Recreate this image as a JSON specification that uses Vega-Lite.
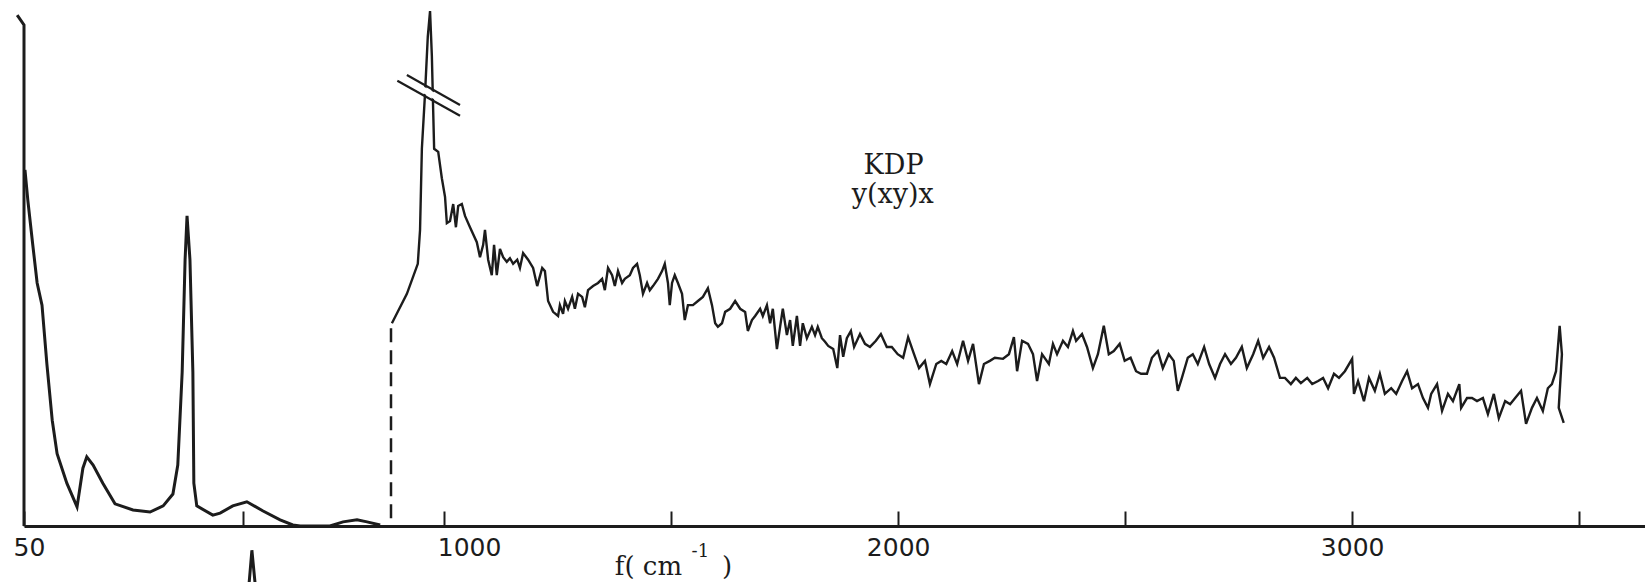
{
  "$schema": "https://vega.github.io/schema/vega-lite/v6.json",
  "width": 1621,
  "height": 516,
  "autosize": {"type": "none"},
  "padding": {"left": 24, "top": 10, "right": 0, "bottom": 56},
  "background": "white",
  "config": {"view": {"stroke": null}},
  "datasets": {
    "low": [
      {"i":1,"f":52,"I":69.0},{"i":2,"f":58,"I":63.0},{"i":3,"f":68,"I":54.5},{"i":4,"f":77,"I":47.1},
      {"i":5,"f":87,"I":42.8},{"i":6,"f":97,"I":31.4},{"i":7,"f":108,"I":20.5},{"i":8,"f":118,"I":14.0},
      {"i":9,"f":138,"I":8.3},{"i":10,"f":159,"I":3.7},{"i":11,"f":171,"I":11.2},{"i":12,"f":179,"I":13.4},
      {"i":13,"f":192,"I":11.8},{"i":14,"f":212,"I":8.3},{"i":15,"f":237,"I":4.3},{"i":16,"f":274,"I":3.1},
      {"i":17,"f":309,"I":2.7},{"i":18,"f":336,"I":3.9},{"i":19,"f":356,"I":6.2},{"i":20,"f":366,"I":11.8},
      {"i":21,"f":375,"I":29.8},{"i":22,"f":381,"I":51.6},{"i":23,"f":385,"I":60.1},{"i":24,"f":391,"I":51.6},
      {"i":25,"f":397,"I":29.8},{"i":26,"f":399,"I":8.3},{"i":27,"f":405,"I":3.9},{"i":28,"f":438,"I":2.1},
      {"i":29,"f":453,"I":2.5},{"i":30,"f":479,"I":3.9},{"i":31,"f":510,"I":4.7},{"i":32,"f":552,"I":2.9},
      {"i":33,"f":596,"I":1.2},{"i":34,"f":629,"I":0.2},{"i":35,"f":648,"I":0},{"i":36,"f":725,"I":0},
      {"i":37,"f":759,"I":0.8},{"i":38,"f":795,"I":1.2},{"i":39,"f":821,"I":0.8},{"i":40,"f":855,"I":0.2}
    ],
    "high": [
      {"i":1,"f":885,"I":39.3},{"i":2,"f":918,"I":45.0},{"i":3,"f":942,"I":50.8},{"i":4,"f":947,"I":57.4},
      {"i":5,"f":951,"I":73.1},{"i":6,"f":958,"I":83.9},{"i":7,"f":964,"I":94.8},{"i":8,"f":969,"I":99.8},
      {"i":9,"f":973,"I":91.1},{"i":10,"f":976,"I":80.2},{"i":11,"f":978,"I":73.1},{"i":12,"f":987,"I":72.5},
      {"i":13,"f":995,"I":67.4},{"i":14,"f":1002,"I":63.8},{"i":15,"f":1006,"I":58.7},{"i":16,"f":1013,"I":59.1},
      {"i":17,"f":1020,"I":62.4},{"i":18,"f":1026,"I":57.9},{"i":19,"f":1031,"I":62.0},{"i":20,"f":1039,"I":62.4},
      {"i":21,"f":1046,"I":60.1},{"i":22,"f":1057,"I":57.9},{"i":23,"f":1072,"I":55.0},{"i":24,"f":1079,"I":52.1},
      {"i":25,"f":1086,"I":54.5},{"i":26,"f":1090,"I":57.4},{"i":27,"f":1097,"I":51.6},{"i":28,"f":1105,"I":48.6},
      {"i":29,"f":1110,"I":54.5},{"i":30,"f":1116,"I":48.6},{"i":31,"f":1123,"I":53.7},{"i":32,"f":1130,"I":52.1},
      {"i":33,"f":1138,"I":51.2},{"i":34,"f":1145,"I":51.9},{"i":35,"f":1152,"I":50.8},{"i":36,"f":1161,"I":51.6},
      {"i":37,"f":1167,"I":50.0},{"i":38,"f":1174,"I":52.9},{"i":39,"f":1185,"I":51.6},{"i":40,"f":1196,"I":50.0},
      {"i":41,"f":1205,"I":46.5},{"i":42,"f":1216,"I":50.0},{"i":43,"f":1222,"I":49.4},{"i":44,"f":1229,"I":43.6},
      {"i":45,"f":1240,"I":41.5},{"i":46,"f":1251,"I":40.7},{"i":47,"f":1255,"I":42.8},{"i":48,"f":1262,"I":41.1},
      {"i":49,"f":1266,"I":43.6},{"i":50,"f":1273,"I":42.1},{"i":51,"f":1282,"I":44.4},{"i":52,"f":1288,"I":42.1},
      {"i":53,"f":1295,"I":45.0},{"i":54,"f":1304,"I":44.4},{"i":55,"f":1310,"I":42.4},{"i":56,"f":1317,"I":45.7},
      {"i":57,"f":1328,"I":46.5},{"i":58,"f":1339,"I":47.1},{"i":59,"f":1348,"I":47.9},{"i":60,"f":1354,"I":45.7},
      {"i":61,"f":1361,"I":50.0},{"i":62,"f":1370,"I":48.6},{"i":63,"f":1376,"I":46.5},{"i":64,"f":1383,"I":49.4},
      {"i":65,"f":1392,"I":47.1},{"i":66,"f":1398,"I":47.9},{"i":67,"f":1409,"I":48.6},{"i":68,"f":1416,"I":50.0},
      {"i":69,"f":1425,"I":50.8},{"i":70,"f":1431,"I":48.6},{"i":71,"f":1438,"I":45.0},{"i":72,"f":1447,"I":47.1},
      {"i":73,"f":1453,"I":45.7},{"i":74,"f":1460,"I":46.5},{"i":75,"f":1471,"I":47.9},{"i":76,"f":1480,"I":49.4},
      {"i":77,"f":1486,"I":50.8},{"i":78,"f":1493,"I":47.1},{"i":79,"f":1497,"I":42.8},{"i":80,"f":1502,"I":47.1},
      {"i":81,"f":1508,"I":48.6},{"i":82,"f":1515,"I":47.1},{"i":83,"f":1524,"I":45.0},{"i":84,"f":1530,"I":39.9},
      {"i":85,"f":1537,"I":42.8},{"i":86,"f":1548,"I":42.8},{"i":87,"f":1559,"I":43.6},{"i":88,"f":1570,"I":44.4},
      {"i":89,"f":1581,"I":46.1},{"i":90,"f":1590,"I":42.8},{"i":91,"f":1597,"I":39.3},{"i":92,"f":1603,"I":38.6},
      {"i":93,"f":1612,"I":39.3},{"i":94,"f":1619,"I":41.5},{"i":95,"f":1630,"I":42.1},{"i":96,"f":1641,"I":43.6},
      {"i":97,"f":1652,"I":42.1},{"i":98,"f":1663,"I":41.5},{"i":99,"f":1669,"I":37.8},{"i":100,"f":1678,"I":39.9},
      {"i":101,"f":1685,"I":40.7},{"i":102,"f":1696,"I":42.1},{"i":103,"f":1702,"I":40.7},{"i":104,"f":1711,"I":42.8},
      {"i":105,"f":1718,"I":39.3},{"i":106,"f":1724,"I":42.1},{"i":107,"f":1733,"I":34.3},{"i":108,"f":1740,"I":38.6},
      {"i":109,"f":1746,"I":42.1},{"i":110,"f":1755,"I":37.0},{"i":111,"f":1762,"I":39.9},{"i":112,"f":1768,"I":34.9},
      {"i":113,"f":1777,"I":40.7},{"i":114,"f":1784,"I":34.9},{"i":115,"f":1790,"I":39.3},{"i":116,"f":1799,"I":36.4},
      {"i":117,"f":1810,"I":38.6},{"i":118,"f":1817,"I":37.0},{"i":119,"f":1823,"I":38.6},{"i":120,"f":1832,"I":36.4},
      {"i":121,"f":1839,"I":35.7},{"i":122,"f":1846,"I":34.9},{"i":123,"f":1857,"I":34.3},{"i":124,"f":1866,"I":30.6},
      {"i":125,"f":1872,"I":37.0},{"i":126,"f":1879,"I":32.8},{"i":127,"f":1887,"I":36.4},{"i":128,"f":1896,"I":37.8},
      {"i":129,"f":1903,"I":34.7},{"i":130,"f":1916,"I":37.2},{"i":131,"f":1927,"I":35.3},{"i":132,"f":1938,"I":34.7},
      {"i":133,"f":1951,"I":35.9},{"i":134,"f":1962,"I":37.2},{"i":135,"f":1975,"I":34.7},{"i":136,"f":1986,"I":34.7},
      {"i":137,"f":1999,"I":33.3},{"i":138,"f":2011,"I":32.6},{"i":139,"f":2022,"I":36.6},{"i":140,"f":2035,"I":33.3},
      {"i":141,"f":2046,"I":30.6},{"i":142,"f":2059,"I":32.0},{"i":143,"f":2070,"I":27.5},{"i":144,"f":2084,"I":31.4},
      {"i":145,"f":2095,"I":32.0},{"i":146,"f":2106,"I":31.4},{"i":147,"f":2119,"I":33.9},{"i":148,"f":2130,"I":31.4},
      {"i":149,"f":2143,"I":35.9},{"i":150,"f":2154,"I":32.0},{"i":151,"f":2165,"I":35.3},{"i":152,"f":2178,"I":27.5},
      {"i":153,"f":2189,"I":31.4},{"i":154,"f":2202,"I":32.0},{"i":155,"f":2213,"I":32.6},{"i":156,"f":2231,"I":32.4},
      {"i":157,"f":2244,"I":33.3},{"i":158,"f":2255,"I":36.6},{"i":159,"f":2262,"I":30.0},{"i":160,"f":2273,"I":35.9},
      {"i":161,"f":2286,"I":35.3},{"i":162,"f":2297,"I":33.3},{"i":163,"f":2306,"I":28.1},{"i":164,"f":2317,"I":33.3},
      {"i":165,"f":2332,"I":31.4},{"i":166,"f":2341,"I":35.3},{"i":167,"f":2350,"I":33.3},{"i":168,"f":2363,"I":35.9},
      {"i":169,"f":2374,"I":34.7},{"i":170,"f":2385,"I":37.8},{"i":171,"f":2392,"I":35.9},{"i":172,"f":2405,"I":37.2},
      {"i":173,"f":2416,"I":34.7},{"i":174,"f":2429,"I":30.6},{"i":175,"f":2440,"I":33.3},{"i":176,"f":2453,"I":38.8},
      {"i":177,"f":2464,"I":33.3},{"i":178,"f":2475,"I":33.9},{"i":179,"f":2488,"I":35.3},{"i":180,"f":2499,"I":32.0},
      {"i":181,"f":2512,"I":32.6},{"i":182,"f":2524,"I":30.0},{"i":183,"f":2535,"I":29.5},{"i":184,"f":2548,"I":29.5},
      {"i":185,"f":2559,"I":32.6},{"i":186,"f":2572,"I":33.9},{"i":187,"f":2583,"I":30.6},{"i":188,"f":2596,"I":33.3},
      {"i":189,"f":2607,"I":32.0},{"i":190,"f":2616,"I":26.2},{"i":191,"f":2625,"I":28.7},{"i":192,"f":2638,"I":32.6},
      {"i":193,"f":2649,"I":33.3},{"i":194,"f":2660,"I":31.4},{"i":195,"f":2674,"I":34.7},{"i":196,"f":2685,"I":31.4},
      {"i":197,"f":2698,"I":28.7},{"i":198,"f":2709,"I":31.4},{"i":199,"f":2720,"I":33.3},{"i":200,"f":2733,"I":31.4},
      {"i":201,"f":2744,"I":32.6},{"i":202,"f":2757,"I":34.7},{"i":203,"f":2768,"I":30.6},{"i":204,"f":2782,"I":33.3},
      {"i":205,"f":2793,"I":35.9},{"i":206,"f":2804,"I":32.6},{"i":207,"f":2817,"I":34.7},{"i":208,"f":2828,"I":32.6},
      {"i":209,"f":2841,"I":28.7},{"i":210,"f":2852,"I":28.7},{"i":211,"f":2865,"I":27.5},{"i":212,"f":2876,"I":28.7},
      {"i":213,"f":2887,"I":27.7},{"i":214,"f":2901,"I":28.7},{"i":215,"f":2912,"I":27.5},{"i":216,"f":2925,"I":28.1},
      {"i":217,"f":2936,"I":28.7},{"i":218,"f":2947,"I":26.7},{"i":219,"f":2960,"I":29.5},{"i":220,"f":2971,"I":28.7},
      {"i":221,"f":2984,"I":30.0},{"i":222,"f":3000,"I":32.4},{"i":223,"f":3004,"I":25.6},{"i":224,"f":3013,"I":28.1},
      {"i":225,"f":3026,"I":24.2},{"i":226,"f":3037,"I":28.7},{"i":227,"f":3050,"I":26.2},{"i":228,"f":3061,"I":29.5},
      {"i":229,"f":3072,"I":25.6},{"i":230,"f":3086,"I":26.7},{"i":231,"f":3097,"I":25.6},{"i":232,"f":3110,"I":28.1},
      {"i":233,"f":3121,"I":30.0},{"i":234,"f":3132,"I":26.7},{"i":235,"f":3145,"I":27.5},{"i":236,"f":3156,"I":24.8},
      {"i":237,"f":3167,"I":22.9},{"i":238,"f":3174,"I":25.6},{"i":239,"f":3187,"I":27.5},{"i":240,"f":3198,"I":22.3},
      {"i":241,"f":3211,"I":25.6},{"i":242,"f":3222,"I":24.2},{"i":243,"f":3236,"I":27.5},{"i":244,"f":3240,"I":22.9},
      {"i":245,"f":3253,"I":24.8},{"i":246,"f":3264,"I":24.8},{"i":247,"f":3275,"I":24.2},{"i":248,"f":3288,"I":24.8},
      {"i":249,"f":3299,"I":21.7},{"i":250,"f":3312,"I":25.6},{"i":251,"f":3323,"I":20.9},{"i":252,"f":3337,"I":24.2},
      {"i":253,"f":3348,"I":23.6},{"i":254,"f":3359,"I":24.8},{"i":255,"f":3372,"I":26.2},{"i":256,"f":3383,"I":19.8},
      {"i":257,"f":3396,"I":22.9},{"i":258,"f":3407,"I":24.8},{"i":259,"f":3420,"I":22.3},{"i":260,"f":3431,"I":26.7},
      {"i":261,"f":3440,"I":27.5},{"i":262,"f":3449,"I":30.0},{"i":263,"f":3457,"I":38.8},{"i":264,"f":3462,"I":33.3},
      {"i":265,"f":3455,"I":22.9},{"i":266,"f":3466,"I":20.0}
    ],
    "frame": [
      {"i":0,"f":36,"I":99.0},{"i":1,"f":50,"I":97.1},{"i":2,"f":50,"I":0}
    ],
    "frag": [
      {"i":0,"f":516,"I":-10.9},{"i":1,"f":523,"I":-4.7},{"i":2,"f":531,"I":-10.9}
    ],
    "dash": [{"f":883,"I":1.5,"I2":39.0}],
    "brk": [
      {"f":918,"I":87.4,"f2":1035,"I2":81.6},
      {"f":897,"I":86.3,"f2":1035,"I2":79.5}
    ],
    "gap": [{"f":907,"I":86.8,"f2":1040,"I2":80.4}],
    "notes": [
      {"f":1990,"I":68.2,"label":"KDP"},
      {"f":1988,"I":62.6,"label":"y(xy)x"}
    ],
    "xtitle": [
      {"f":1376,"I":-9.5,"label":"f( cm","size":26},
      {"f":1545,"I":-6.0,"label":"-1","size":18},
      {"f":1612,"I":-9.5,"label":")","size":26}
    ]
  },
  "layer": [
    {
      "data": {"name": "low"},
      "mark": {"type": "line", "color": "#1c1c1c", "strokeWidth": 3},
      "encoding": {
        "x": {
          "field": "f", "type": "quantitative",
          "scale": {"domain": [50, 500, 883, 3645], "range": [0, 219, 367, 1621], "nice": false, "zero": false},
          "axis": {
            "title": null,
            "values": [50, 500, 1000, 1500, 2000, 2500, 3000, 3500],
            "labelExpr": "indexof([50,1000,2000,3000], datum.value) >= 0 ? datum.label : ''",
            "format": "d",
            "grid": false,
            "domainColor": "#1c1c1c", "domainWidth": 3,
            "tickColor": "#1c1c1c", "tickWidth": 2, "tickSize": -15,
            "labelFont": "DejaVu Sans", "labelFontSize": 25, "labelColor": "#1c1c1c",
            "labelPadding": 24, "labelOverlap": false, "labelFlush": false, "labelBound": false,
            "labelOffset": {"condition": [{"test": "datum.value == 1000", "value": 25}, {"test": "datum.value == 50", "value": 5}], "value": 0}
          }
        },
        "y": {"field": "I", "type": "quantitative", "scale": {"domain": [0, 100], "nice": false, "zero": false}, "axis": null},
        "order": {"field": "i"}
      }
    },
    {
      "data": {"name": "high"},
      "mark": {"type": "line", "color": "#1c1c1c", "strokeWidth": 2.4},
      "encoding": {
        "x": {"field": "f", "type": "quantitative"},
        "y": {"field": "I", "type": "quantitative"},
        "order": {"field": "i"}
      }
    },
    {
      "data": {"name": "frame"},
      "mark": {"type": "line", "color": "#1c1c1c", "strokeWidth": 3},
      "encoding": {
        "x": {"field": "f", "type": "quantitative"},
        "y": {"field": "I", "type": "quantitative"},
        "order": {"field": "i"}
      }
    },
    {
      "data": {"name": "frag"},
      "mark": {"type": "line", "color": "#1c1c1c", "strokeWidth": 3},
      "encoding": {
        "x": {"field": "f", "type": "quantitative"},
        "y": {"field": "I", "type": "quantitative"},
        "order": {"field": "i"}
      }
    },
    {
      "data": {"name": "dash"},
      "mark": {"type": "rule", "color": "#1c1c1c", "strokeWidth": 2.5, "strokeDash": [14, 8]},
      "encoding": {
        "x": {"field": "f", "type": "quantitative"},
        "y": {"field": "I", "type": "quantitative"},
        "y2": {"field": "I2"}
      }
    },
    {
      "data": {"name": "gap"},
      "mark": {"type": "rule", "color": "white", "strokeWidth": 6},
      "encoding": {
        "x": {"field": "f", "type": "quantitative"},
        "y": {"field": "I", "type": "quantitative"},
        "x2": {"field": "f2"},
        "y2": {"field": "I2"}
      }
    },
    {
      "data": {"name": "brk"},
      "mark": {"type": "rule", "color": "#1c1c1c", "strokeWidth": 2.2},
      "encoding": {
        "x": {"field": "f", "type": "quantitative"},
        "y": {"field": "I", "type": "quantitative"},
        "x2": {"field": "f2"},
        "y2": {"field": "I2"}
      }
    },
    {
      "data": {"name": "notes"},
      "mark": {"type": "text", "font": "DejaVu Serif", "fontSize": 27, "color": "#1c1c1c", "align": "center", "baseline": "alphabetic"},
      "encoding": {
        "x": {"field": "f", "type": "quantitative"},
        "y": {"field": "I", "type": "quantitative"},
        "text": {"field": "label"}
      }
    },
    {
      "data": {"name": "xtitle"},
      "mark": {"type": "text", "font": "DejaVu Serif", "color": "#1c1c1c", "align": "left", "baseline": "alphabetic"},
      "encoding": {
        "x": {"field": "f", "type": "quantitative"},
        "y": {"field": "I", "type": "quantitative"},
        "text": {"field": "label"},
        "size": {"field": "size", "type": "quantitative", "scale": null}
      }
    }
  ]
}
